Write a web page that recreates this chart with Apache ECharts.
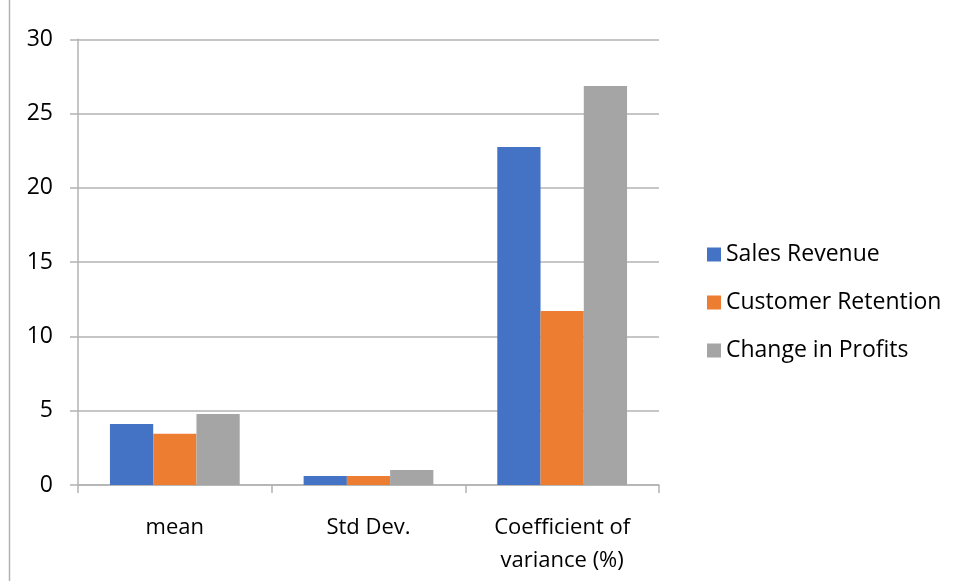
<!DOCTYPE html>
<html><head><meta charset="utf-8">
<script src="https://cdn.jsdelivr.net/npm/echarts@6/dist/echarts.min.js"></script>
<style>html,body{margin:0;padding:0;background:#fff}#c{width:957px;height:581px}</style>
</head><body><div id="c"></div>
<script>
const categories = ['mean', 'Std Dev.', 'Coefficient of\nvariance (%)'];
const seriesNames = ['Sales Revenue', 'Customer Retention', 'Change in Profits'];
const salesRevenue = [4.1, 0.61, 22.75];
const customerRetention = [3.45, 0.61, 11.71];
const changeInProfits = [4.78, 1.01, 26.85];
const yTicks = [0, 5, 10, 15, 20, 25, 30];
const colors = ['#4472C4', '#ED7D31', '#A5A5A5'];
const values = [salesRevenue, customerRetention, changeInProfits];
const font = '"Open Sans", "Noto Sans", sans-serif';

const chart = echarts.init(document.getElementById('c'), null, {renderer: 'canvas'});
chart.setOption({
  animation: false,
  backgroundColor: '#fff',
  textStyle: {fontFamily: font},
  grid: {left: 78, right: 298, top: 39.3, bottom: 96, containLabel: false},
  legend: {
    orient: 'vertical', left: 702, top: 238,
    itemWidth: 14, itemHeight: 14, itemGap: 25,
    icon: 'rect',
    textStyle: {fontSize: 23, color: '#000', fontFamily: font, lineHeight: 20, padding: [0,0,0,0]},
    data: seriesNames
  },
  xAxis: {
    type: 'category', data: categories,
    axisLine: {lineStyle: {color: '#b3b3b3', width: 1.5}},
    axisTick: {show: true, length: 8, lineStyle: {color: '#b3b3b3', width: 1.5}},
    axisLabel: {fontSize: 22, color: '#000', margin: 26, lineHeight: 33, fontFamily: font}
  },
  yAxis: {
    type: 'value', min: yTicks[0], max: yTicks[yTicks.length-1], interval: yTicks[1]-yTicks[0],
    axisLine: {show: true, lineStyle: {color: '#b3b3b3', width: 1.5}},
    axisTick: {show: true, length: 8, lineStyle: {color: '#b3b3b3', width: 1.5}},
    splitLine: {lineStyle: {color: '#b3b3b3', width: 1.5}},
    axisLabel: {fontSize: 23, color: '#000', margin: 25, fontFamily: font}
  },
  graphic: [{type: 'line', shape: {x1: 9.5, y1: 0, x2: 9.5, y2: 581}, style: {stroke: '#b3b3b3', lineWidth: 1.5}}],
  series: seriesNames.map((n, i) => ({
    name: n, type: 'bar', data: values[i],
    itemStyle: {color: colors[i]},
    barGap: '0%', barCategoryGap: '33%'
  }))
});
</script></body></html>
